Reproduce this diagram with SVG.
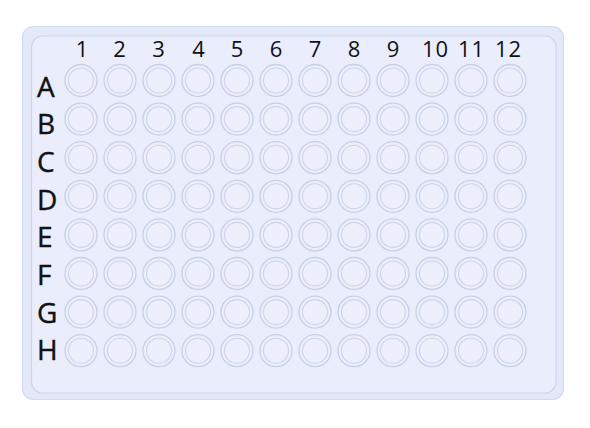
<svg xmlns="http://www.w3.org/2000/svg" width="590" height="428" viewBox="0 0 590 428">
<defs>
<style>
.lbl{font-family:"Open Sans","Noto Sans","DejaVu Sans",sans-serif;fill:#111;}
.num{font-size:22px;text-anchor:middle;letter-spacing:1px;}
.row{font-size:28px;stroke:#111;stroke-width:0.4;}
.wo{fill:#ebeefb;stroke:#c8cfe6;stroke-width:1.3;}
.wi{fill:#edf0fc;stroke:#cdd4ea;stroke-width:1.1;}
</style>
<g id="well"><circle class="wo" r="16"/><circle class="wi" r="12.5"/></g>
</defs>
<rect width="590" height="428" fill="#ffffff"/>
<g id="plate">
<rect x="22.5" y="26.5" width="541" height="373" rx="11" fill="#e4e9f9" stroke="#d3dbf2" stroke-width="1.2"/>
<rect x="31.5" y="36" width="524.5" height="357" rx="11" fill="#eaedfb" stroke="#cdd5ee" stroke-width="1.2"/>
</g>
<g id="col-labels" class="lbl num">
<text x="82.5" y="57">1</text><text x="120" y="57">2</text><text x="159" y="57">3</text><text x="199" y="57">4</text>
<text x="237.5" y="57">5</text><text x="276.5" y="57">6</text><text x="315.5" y="57">7</text><text x="354.5" y="57">8</text>
<text x="393.5" y="57">9</text><text x="435.5" y="57">10</text><text x="471.5" y="57">11</text><text x="508.5" y="57">12</text>
</g>
<g id="row-labels" class="lbl row">
<text x="37" y="97">A</text><text x="37" y="134">B</text><text x="37" y="172">C</text><text x="37" y="210">D</text>
<text x="37" y="247">E</text><text x="37" y="285">F</text><text x="37" y="323">G</text><text x="37" y="360">H</text>
</g>
<g id="wells">
<g id="row-A" transform="translate(0,80.5)">
<use href="#well" x="81"/><use href="#well" x="120"/><use href="#well" x="159"/><use href="#well" x="198"/><use href="#well" x="237"/><use href="#well" x="276"/><use href="#well" x="315"/><use href="#well" x="354"/><use href="#well" x="393"/><use href="#well" x="432"/><use href="#well" x="471"/><use href="#well" x="510"/>
</g>
<g id="row-B" transform="translate(0,119.1)">
<use href="#well" x="81"/><use href="#well" x="120"/><use href="#well" x="159"/><use href="#well" x="198"/><use href="#well" x="237"/><use href="#well" x="276"/><use href="#well" x="315"/><use href="#well" x="354"/><use href="#well" x="393"/><use href="#well" x="432"/><use href="#well" x="471"/><use href="#well" x="510"/>
</g>
<g id="row-C" transform="translate(0,157.7)">
<use href="#well" x="81"/><use href="#well" x="120"/><use href="#well" x="159"/><use href="#well" x="198"/><use href="#well" x="237"/><use href="#well" x="276"/><use href="#well" x="315"/><use href="#well" x="354"/><use href="#well" x="393"/><use href="#well" x="432"/><use href="#well" x="471"/><use href="#well" x="510"/>
</g>
<g id="row-D" transform="translate(0,196.3)">
<use href="#well" x="81"/><use href="#well" x="120"/><use href="#well" x="159"/><use href="#well" x="198"/><use href="#well" x="237"/><use href="#well" x="276"/><use href="#well" x="315"/><use href="#well" x="354"/><use href="#well" x="393"/><use href="#well" x="432"/><use href="#well" x="471"/><use href="#well" x="510"/>
</g>
<g id="row-E" transform="translate(0,234.9)">
<use href="#well" x="81"/><use href="#well" x="120"/><use href="#well" x="159"/><use href="#well" x="198"/><use href="#well" x="237"/><use href="#well" x="276"/><use href="#well" x="315"/><use href="#well" x="354"/><use href="#well" x="393"/><use href="#well" x="432"/><use href="#well" x="471"/><use href="#well" x="510"/>
</g>
<g id="row-F" transform="translate(0,273.5)">
<use href="#well" x="81"/><use href="#well" x="120"/><use href="#well" x="159"/><use href="#well" x="198"/><use href="#well" x="237"/><use href="#well" x="276"/><use href="#well" x="315"/><use href="#well" x="354"/><use href="#well" x="393"/><use href="#well" x="432"/><use href="#well" x="471"/><use href="#well" x="510"/>
</g>
<g id="row-G" transform="translate(0,312.1)">
<use href="#well" x="81"/><use href="#well" x="120"/><use href="#well" x="159"/><use href="#well" x="198"/><use href="#well" x="237"/><use href="#well" x="276"/><use href="#well" x="315"/><use href="#well" x="354"/><use href="#well" x="393"/><use href="#well" x="432"/><use href="#well" x="471"/><use href="#well" x="510"/>
</g>
<g id="row-H" transform="translate(0,350.7)">
<use href="#well" x="81"/><use href="#well" x="120"/><use href="#well" x="159"/><use href="#well" x="198"/><use href="#well" x="237"/><use href="#well" x="276"/><use href="#well" x="315"/><use href="#well" x="354"/><use href="#well" x="393"/><use href="#well" x="432"/><use href="#well" x="471"/><use href="#well" x="510"/>
</g>
</g>
</svg>
